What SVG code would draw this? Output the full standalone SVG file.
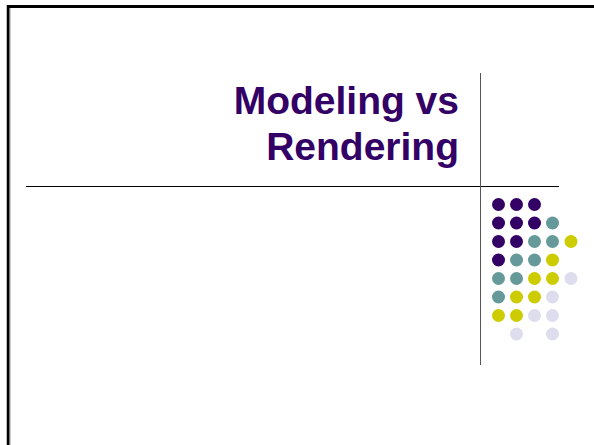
<svg xmlns="http://www.w3.org/2000/svg" width="594" height="445" viewBox="0 0 594 445">
<style>
.title{font-family:"Liberation Sans",Arial,sans-serif;font-weight:bold;font-size:39px;fill:#330066;text-anchor:end}
.p{fill:#330066}.t{fill:#669999}.y{fill:#CCCC00}.l{fill:#DDDDEE}
</style>
<rect width="594" height="445" fill="#ffffff"/>
<g id="frame">
<line x1="9.5" y1="8" x2="9.5" y2="445" stroke="#999999" stroke-width="2"/>
<line x1="7" y1="6.5" x2="594" y2="6.5" stroke="#000000" stroke-width="3"/>
<line x1="8" y1="5" x2="8" y2="445" stroke="#000000" stroke-width="2.5"/>
</g>
<g id="rules">
<line x1="26" y1="186.5" x2="559" y2="186.5" stroke="#000000" stroke-width="1"/>
<line x1="480.5" y1="73" x2="480.5" y2="365" stroke="#555555" stroke-width="1"/>
</g>
<g id="title">
<text class="title" x="459" y="114">Modeling vs</text>
<text class="title" x="459" y="160">Rendering</text>
</g>
<g id="dots">
<circle class="p" cx="498.5" cy="204.5" r="6.5"/><circle class="p" cx="516.5" cy="204.5" r="6.5"/><circle class="p" cx="534.5" cy="204.5" r="6.5"/>
<circle class="p" cx="498.5" cy="223" r="6.5"/><circle class="p" cx="516.5" cy="223" r="6.5"/><circle class="p" cx="534.5" cy="223" r="6.5"/><circle class="t" cx="552.5" cy="223" r="6.5"/>
<circle class="p" cx="498.5" cy="241.5" r="6.5"/><circle class="p" cx="516.5" cy="241.5" r="6.5"/><circle class="t" cx="534.5" cy="241.5" r="6.5"/><circle class="t" cx="552.5" cy="241.5" r="6.5"/><circle class="y" cx="571" cy="241.5" r="6.5"/>
<circle class="p" cx="498.5" cy="260" r="6.5"/><circle class="t" cx="516.5" cy="260" r="6.5"/><circle class="t" cx="534.5" cy="260" r="6.5"/><circle class="y" cx="552.5" cy="260" r="6.5"/>
<circle class="t" cx="498.5" cy="278.5" r="6.5"/><circle class="t" cx="516.5" cy="278.5" r="6.5"/><circle class="y" cx="534.5" cy="278.5" r="6.5"/><circle class="y" cx="552.5" cy="278.5" r="6.5"/><circle class="l" cx="571" cy="278.5" r="6.5"/>
<circle class="t" cx="498.5" cy="297" r="6.5"/><circle class="y" cx="516.5" cy="297" r="6.5"/><circle class="y" cx="534.5" cy="297" r="6.5"/><circle class="l" cx="552.5" cy="297" r="6.5"/>
<circle class="y" cx="498.5" cy="315.5" r="6.5"/><circle class="y" cx="516.5" cy="315.5" r="6.5"/><circle class="l" cx="534.5" cy="315.5" r="6.5"/><circle class="l" cx="552.5" cy="315.5" r="6.5"/>
<circle class="l" cx="516.5" cy="334" r="6.5"/><circle class="l" cx="552.5" cy="334" r="6.5"/>
</g>
</svg>
